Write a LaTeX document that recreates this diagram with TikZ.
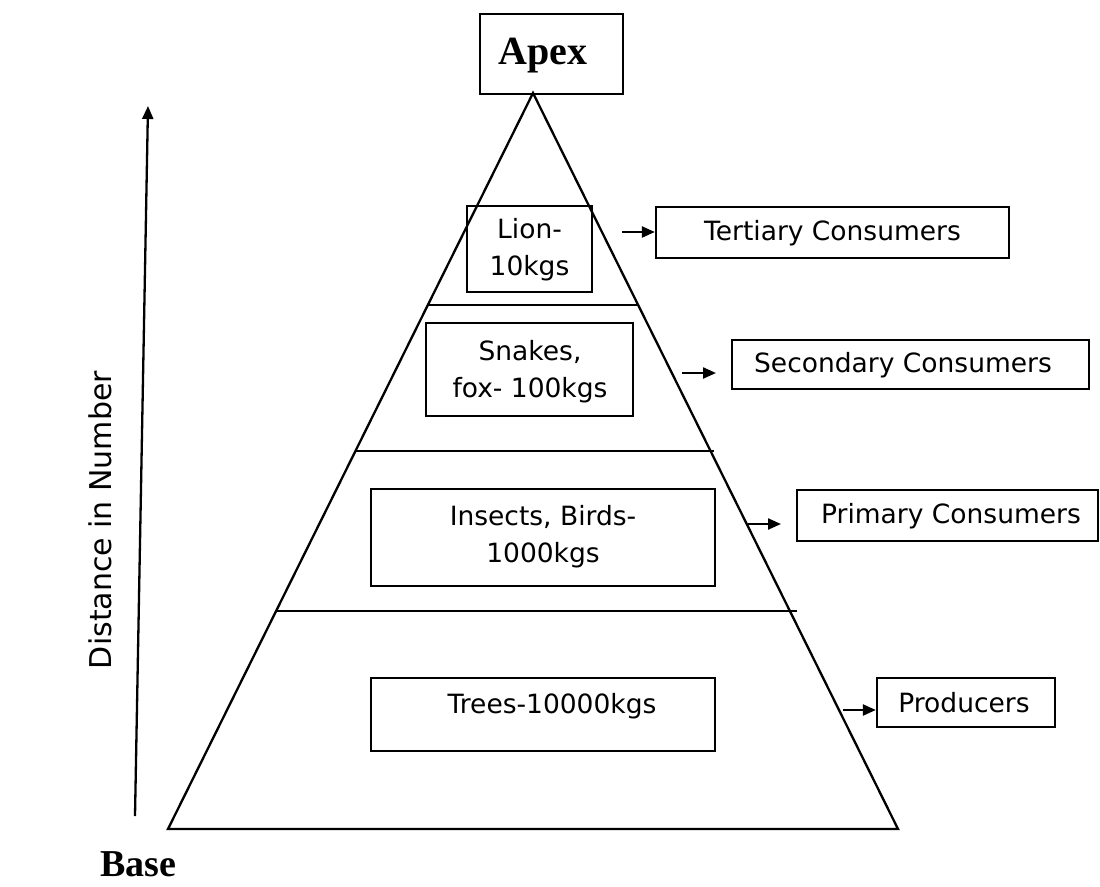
\documentclass[tikz,border=0pt]{standalone}
\usepackage{fontspec}
\setmainfont{Liberation Serif}
\newfontfamily\vsans{DejaVu Sans}
\usetikzlibrary{arrows.meta}
\begin{document}
\begin{tikzpicture}[x=1pt,y=-1pt,
  line width=2.3pt,
  boxstyle/.style={draw=black,line width=2.3pt,inner sep=0pt},
  lbl/.style={font=\vsans\fontsize{26.5}{37}\selectfont,align=center,inner sep=0pt},
  bigbold/.style={font=\bfseries\fontsize{40}{44}\selectfont,inner sep=0pt},
  arr/.style={-{Triangle[length=13pt,width=11pt]},line width=2.3pt}]
\useasboundingbox (0,0) rectangle (1100,886);
% pyramid
\coordinate (top) at (533,93);
\coordinate (bl) at (168,829);
\coordinate (br) at (898,829);
\draw[line join=miter] (top) -- (bl) -- (br) -- cycle;
\coordinate (l1a) at (428,305); \coordinate (l1b) at (637,305);
\coordinate (l2a) at (356,451); \coordinate (l2b) at (714,451);
\coordinate (l3a) at (275,611); \coordinate (l3b) at (797,611);
\draw (l1a) -- (l1b);
\draw (l2a) -- (l2b);
\draw (l3a) -- (l3b);
% apex box
\node[boxstyle,minimum width=143pt,minimum height=80pt] (apexbox) at (551.5,54) {};
\node[bigbold,anchor=base] (apextxt) at (543,64) {Apex};
% base text
\node[bigbold,anchor=base west,font=\bfseries\fontsize{38}{42}\selectfont] (basetxt) at (99,876) {Base};
% inner boxes
\node[boxstyle,minimum width=125pt,minimum height=86pt] (lion) at (529.5,249) {};
\node[lbl] at (529.5,250) {Lion-\\10kgs};
\node[boxstyle,minimum width=207pt,minimum height=93pt] (snakes) at (529.5,369.5) {};
\node[lbl] at (530,372) {Snakes,\\fox- 100kgs};
\node[boxstyle,minimum width=344pt,minimum height=97pt] (insects) at (543,537.5) {};
\node[lbl] at (543,537) {Insects, Birds-\\1000kgs};
\node[boxstyle,minimum width=344pt,minimum height=73pt] (trees) at (543,714.5) {};
\node[lbl] at (552,706) {Trees-10000kgs};
% right boxes
\node[boxstyle,minimum width=353pt,minimum height=51pt] (tert) at (832.5,232.5) {};
\node[lbl] at (832.5,233) {Tertiary Consumers};
\node[boxstyle,minimum width=357pt,minimum height=49pt] (sec) at (910.5,364.5) {};
\node[lbl] at (903,365) {Secondary Consumers};
\node[boxstyle,minimum width=301pt,minimum height=51pt] (prim) at (947.5,515.5) {};
\node[lbl] at (951,516) {Primary Consumers};
\node[boxstyle,minimum width=178pt,minimum height=49pt] (prod) at (966,702.5) {};
\node[lbl] at (964,703) {Producers};
% arrows
\coordinate (a1) at (622,232);
\draw[arr] (a1) -- (tert.west |- a1);
\coordinate (a2s) at (682,373); \coordinate (a2e) at (716,373);
\draw[arr] (a2s) -- (a2e);
\coordinate (a3s) at (748,524); \coordinate (a3e) at (781,524);
\draw[arr] (a3s) -- (a3e);
\coordinate (a4) at (843,710);
\draw[arr] (a4) -- (prod.west |- a4);
% axis
\coordinate (ax0) at (135,816);
\coordinate (ax1) at (148,106);
\draw[arr] (ax0) -- (ax1);
\node[lbl,rotate=90] (axlbl) at (100,520) {\fontsize{30}{34}\selectfont Distance in Number};
\end{tikzpicture}
\end{document}
